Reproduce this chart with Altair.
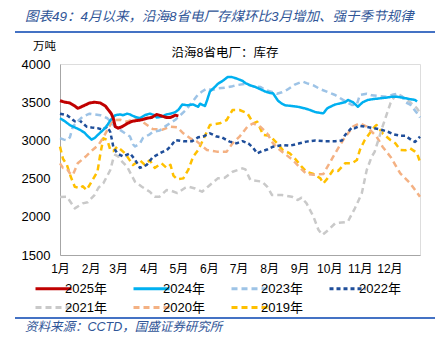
import altair as alt
import pandas as pd

FONT = "Liberation Sans, Noto Sans CJK SC, sans-serif"

YEARS = ["2025年", "2024年", "2023年", "2022年", "2021年", "2020年", "2019年"]
COLORS = ["#C00000", "#00B0F0", "#9DC3E6", "#1F4E9A", "#C9C9C9", "#F4B183", "#FFC000"]
DASHES = [[1, 0], [1, 0], [6, 4], [4, 3], [6, 4], [6, 4], [6, 4]]
WIDTHS = [3, 2.5, 2.5, 2.5, 2.5, 2.5, 2.5]

MONTH_START = [1, 32, 60, 91, 121, 152, 182, 213, 244, 274, 305, 335]
MONTH_LABELS = ["1月", "2月", "3月", "4月", "5月", "6月", "7月", "8月", "9月", "10月", "11月", "12月"]
Y_TICKS = [1500, 2000, 2500, 3000, 3500, 4000]

# (day of year, 万吨)
Y2025 = [(1, 3520), (6, 3500), (11, 3490), (16, 3450), (19, 3420), (21, 3430), (26, 3460), (31, 3490),
         (36, 3500), (42, 3490), (47, 3450), (50, 3400), (53, 3350), (55, 3290), (57, 3180), (60, 3160),
         (64, 3180), (69, 3220), (74, 3250), (79, 3260), (84, 3270), (89, 3290), (94, 3300), (99, 3340),
         (104, 3320), (109, 3300), (113, 3300), (118, 3330), (121, 3320)]
Y2024 = [(1, 3290), (6, 3250), (11, 3200), (16, 3170), (21, 3140), (26, 3100), (28, 3070), (33, 3010),
         (36, 3030), (40, 3080), (45, 3140), (49, 3200), (52, 3260), (57, 3330), (62, 3340), (65, 3330),
         (69, 3350), (72, 3340), (75, 3320), (79, 3300), (82, 3290), (87, 3330), (92, 3350), (97, 3330),
         (99, 3300), (104, 3310), (109, 3340), (113, 3350), (118, 3370), (121, 3400), (125, 3470),
         (130, 3460), (136, 3470), (141, 3440), (143, 3480), (148, 3450), (150, 3520), (153, 3640),
         (158, 3700), (161, 3740), (166, 3780), (171, 3830), (175, 3830), (180, 3810), (186, 3780),
         (189, 3750), (194, 3720), (199, 3700), (204, 3670), (209, 3640), (214, 3620), (217, 3616),
         (222, 3520), (226, 3480), (229, 3460), (236, 3450), (242, 3440), (249, 3420), (254, 3400),
         (260, 3370), (265, 3360), (268, 3354), (272, 3420), (275, 3440), (280, 3470), (285, 3485),
         (290, 3500), (293, 3529), (298, 3500), (303, 3441), (308, 3500), (313, 3529), (318, 3540),
         (325, 3550), (332, 3560), (338, 3572), (343, 3570), (348, 3560), (356, 3540), (361, 3530),
         (363, 3510)]
Y2023 = [(1, 3030), (5, 3010), (8, 3000), (11, 3040), (14, 3180), (19, 3250), (24, 3310), (31, 3350),
         (36, 3340), (42, 3330), (49, 3290), (57, 3180), (65, 3110), (72, 3050), (75, 2950), (77, 2920),
         (82, 2960), (85, 3030), (92, 3080), (95, 3110), (102, 3130), (105, 3160), (113, 3230),
         (118, 3270), (123, 3330), (128, 3390), (135, 3500), (141, 3600), (145, 3640), (150, 3680),
         (155, 3660), (161, 3680), (168, 3690), (176, 3710), (181, 3725), (189, 3740), (196, 3710),
         (204, 3700), (209, 3660), (217, 3630), (221, 3610), (226, 3630), (231, 3660), (239, 3730),
         (247, 3770), (251, 3750), (258, 3720), (265, 3670), (273, 3630), (280, 3594), (288, 3530),
         (292, 3500), (297, 3463), (302, 3470), (305, 3594), (312, 3610), (317, 3590), (325, 3580),
         (332, 3572), (339, 3600), (343, 3610), (348, 3572), (351, 3500), (356, 3470), (361, 3390),
         (364, 3340), (366, 3300)]
Y2022 = [(1, 3350), (8, 3330), (16, 3250), (21, 3260), (28, 3180), (33, 3170), (39, 3160), (44, 3140),
         (49, 3180), (52, 3110), (55, 2920), (59, 2830), (65, 2790), (72, 2830), (77, 2750), (82, 2640),
         (89, 2680), (95, 2780), (105, 2850), (109, 2870), (113, 2920), (118, 3005), (126, 2990),
         (135, 2990), (141, 3040), (146, 3050), (153, 3093), (160, 3050), (165, 3040), (173, 2984),
         (180, 2962), (186, 2990), (192, 2960), (197, 2900), (201, 2830), (206, 2860), (211, 2880),
         (217, 2918), (227, 2940), (234, 2930), (244, 2962), (251, 2984), (260, 3000), (270, 2990),
         (280, 2990), (287, 3000), (290, 3070), (297, 3170), (300, 3160), (305, 3190), (315, 3170),
         (327, 3140), (334, 3110), (339, 3080), (346, 3060), (351, 3060), (358, 3000), (361, 2980),
         (366, 3050)]
Y2021 = [(1, 2260), (8, 2263), (14, 2150), (16, 2110), (24, 2176), (29, 2190), (36, 2285), (40, 2380),
         (45, 2440), (52, 2613), (55, 2760), (57, 2810), (60, 2790), (62, 2750), (69, 2656), (77, 2460),
         (84, 2394), (92, 2328), (97, 2263), (102, 2263), (109, 2350), (114, 2340), (120, 2310),
         (128, 2380), (131, 2394), (138, 2370), (145, 2328), (151, 2394), (161, 2503), (168, 2510),
         (176, 2590), (186, 2634), (189, 2620), (194, 2482), (206, 2460), (211, 2394), (216, 2285),
         (226, 2285), (236, 2263), (242, 2220), (246, 2250), (251, 2176), (258, 2002), (263, 1830),
         (267, 1763), (273, 1827), (280, 1915), (290, 1930), (293, 1940), (300, 2111), (307, 2307),
         (312, 2613), (317, 2787), (320, 2850), (328, 3180), (336, 3485), (341, 3594), (343, 3616),
         (348, 3572), (356, 3500), (363, 3420), (366, 3354)]
Y2020 = [(1, 2700), (4, 2640), (8, 2630), (11, 2570), (14, 2547), (19, 2700), (28, 2800), (34, 2874),
         (40, 2940), (45, 3040), (49, 3136), (55, 3267), (62, 3270), (69, 3245), (77, 3289), (85, 3240),
         (95, 3150), (105, 3140), (113, 3180), (120, 3170), (126, 3093), (133, 3027), (140, 2984),
         (150, 2874), (160, 2853), (170, 2853), (176, 2962), (183, 3049), (191, 3180), (197, 3224),
         (204, 3180), (211, 3093), (217, 2962), (224, 2874), (237, 2743), (246, 2620), (251, 2560),
         (258, 2550), (268, 2560), (278, 2787), (288, 3005), (298, 3180), (305, 3224), (312, 3180),
         (322, 3049), (328, 2918), (336, 2787), (346, 2569), (356, 2438), (366, 2263)]
Y2019 = [(1, 2918), (4, 2760), (8, 2680), (12, 2520), (16, 2394), (21, 2372), (24, 2400), (28, 2350),
         (33, 2460), (39, 2591), (42, 2831), (45, 3027), (49, 3005), (52, 2874), (55, 2860), (59, 2918),
         (67, 2831), (75, 2678), (82, 2740), (87, 2680), (92, 2740), (97, 2640), (104, 2700),
         (109, 2640), (113, 2680), (116, 2540), (120, 2490), (126, 2503), (131, 2613), (136, 2787),
         (141, 2874), (146, 3005), (153, 3202), (163, 3224), (170, 3267), (176, 3398), (183, 3398),
         (191, 3354), (197, 3224), (201, 3245), (207, 3071), (214, 3060), (221, 2962), (227, 2874),
         (234, 2831), (239, 2765), (246, 2656), (251, 2590), (258, 2560), (265, 2503), (268, 2438),
         (272, 2500), (278, 2613), (283, 2600), (290, 2700), (297, 2700), (302, 2743), (305, 2874),
         (310, 3005), (315, 3093), (320, 3180), (322, 3202), (328, 3093), (336, 3005), (341, 2962),
         (346, 2874), (351, 2870), (356, 2896), (361, 2853), (363, 2831), (366, 2720)]

SERIES = [Y2025, Y2024, Y2023, Y2022, Y2021, Y2020, Y2019]

TITLE = "图表49：4月以来，沿海8省电厂存煤环比3月增加、强于季节规律"
SUBTITLE = "沿海8省电厂：库存"
UNIT = "万吨"
SOURCE = "资料来源：CCTD，国盛证券研究所"

rows = []
for name, pts in zip(YEARS, SERIES):
    for d, v in pts:
        rows.append({"year": name, "day": d, "value": v})
df = pd.DataFrame(rows)

legend = alt.Legend(
    title=None, orient="none", legendX=-17, legendY=214, columns=4, direction="horizontal",
    symbolType="M-2,0H2", symbolSize=324, symbolStrokeWidth=3,
    labelFontSize=13, labelFont=FONT, labelColor="#000000", labelOffset=1,
    columnPadding=20, rowPadding=1, labelLimit=80, gridAlign="all",
)

label_expr = "[" + ",".join("'%s'" % m for m in MONTH_LABELS) + "][indexof([" + \
    ",".join(str(d) for d in MONTH_START) + "], datum.value)]"

x_enc = alt.X("day:Q", scale=alt.Scale(domain=[1, 366], nice=False, zero=False),
              axis=alt.Axis(values=MONTH_START, labelExpr=label_expr, title=None, grid=False,
                            ticks=False, domainColor="#A6A6A6", labelFontSize=12, labelFont=FONT,
                            labelColor="#000000", labelPadding=8, labelFlush=False))
y_enc = alt.Y("value:Q", scale=alt.Scale(domain=[1500, 4000], nice=False, zero=False),
              axis=alt.Axis(values=Y_TICKS, format="d", title=None, grid=False, ticks=False,
                            domainColor="#A6A6A6", labelFontSize=13, labelFont=FONT,
                            labelColor="#000000", labelPadding=10))

layers = []
for i in reversed(range(len(YEARS))):
    layers.append(
        alt.Chart(df).transform_filter(alt.datum.year == YEARS[i])
        .mark_line(strokeWidth=WIDTHS[i], strokeJoin="round")
        .encode(
            x=x_enc, y=y_enc,
            color=alt.Color("year:N", scale=alt.Scale(domain=YEARS, range=COLORS), legend=legend),
            strokeDash=alt.StrokeDash("year:N", scale=alt.Scale(domain=YEARS, range=DASHES), legend=legend),
        )
    )

one = pd.DataFrame({"k": [0]})
BLUE = "#2F5597"

def text(t, x, y, size, color="#000000", italic=False, align="left"):
    return alt.Chart(pd.DataFrame({"t": [t]})).mark_text(
        align=align, baseline="middle", fontSize=size, font=FONT, color=color,
        fontStyle="italic" if italic else "normal",
    ).encode(text="t:N", x=alt.value(x), y=alt.value(y))

top_rule = alt.Chart(one).mark_rule(color="#4472C4", strokeWidth=2).encode(
    x=alt.value(-45), x2=alt.value(375), y=alt.value(-32))
bottom_rule = alt.Chart(one).mark_rule(color="#4472C4", strokeWidth=2).encode(
    x=alt.value(-45), x2=alt.value(375), y=alt.value(254))

chart = alt.layer(
    *layers,
    top_rule, bottom_rule,
    text(TITLE, -35, -47, 13.5, BLUE, italic=True),
    text(UNIT, -27, -17, 11.5),
    text(SUBTITLE, 165, -11, 12.5, align="center"),
    text(SOURCE, -35, 263, 12.5, BLUE, italic=True),
).properties(
    width=360, height=191,
    padding={"left": 60, "top": 64, "right": 23, "bottom": 88},
    autosize=alt.AutoSizeParams(type="none"),
).configure_view(stroke=None).configure(background="white")

chart.save("out.html", embed_options={"renderer": "svg", "actions": False})
